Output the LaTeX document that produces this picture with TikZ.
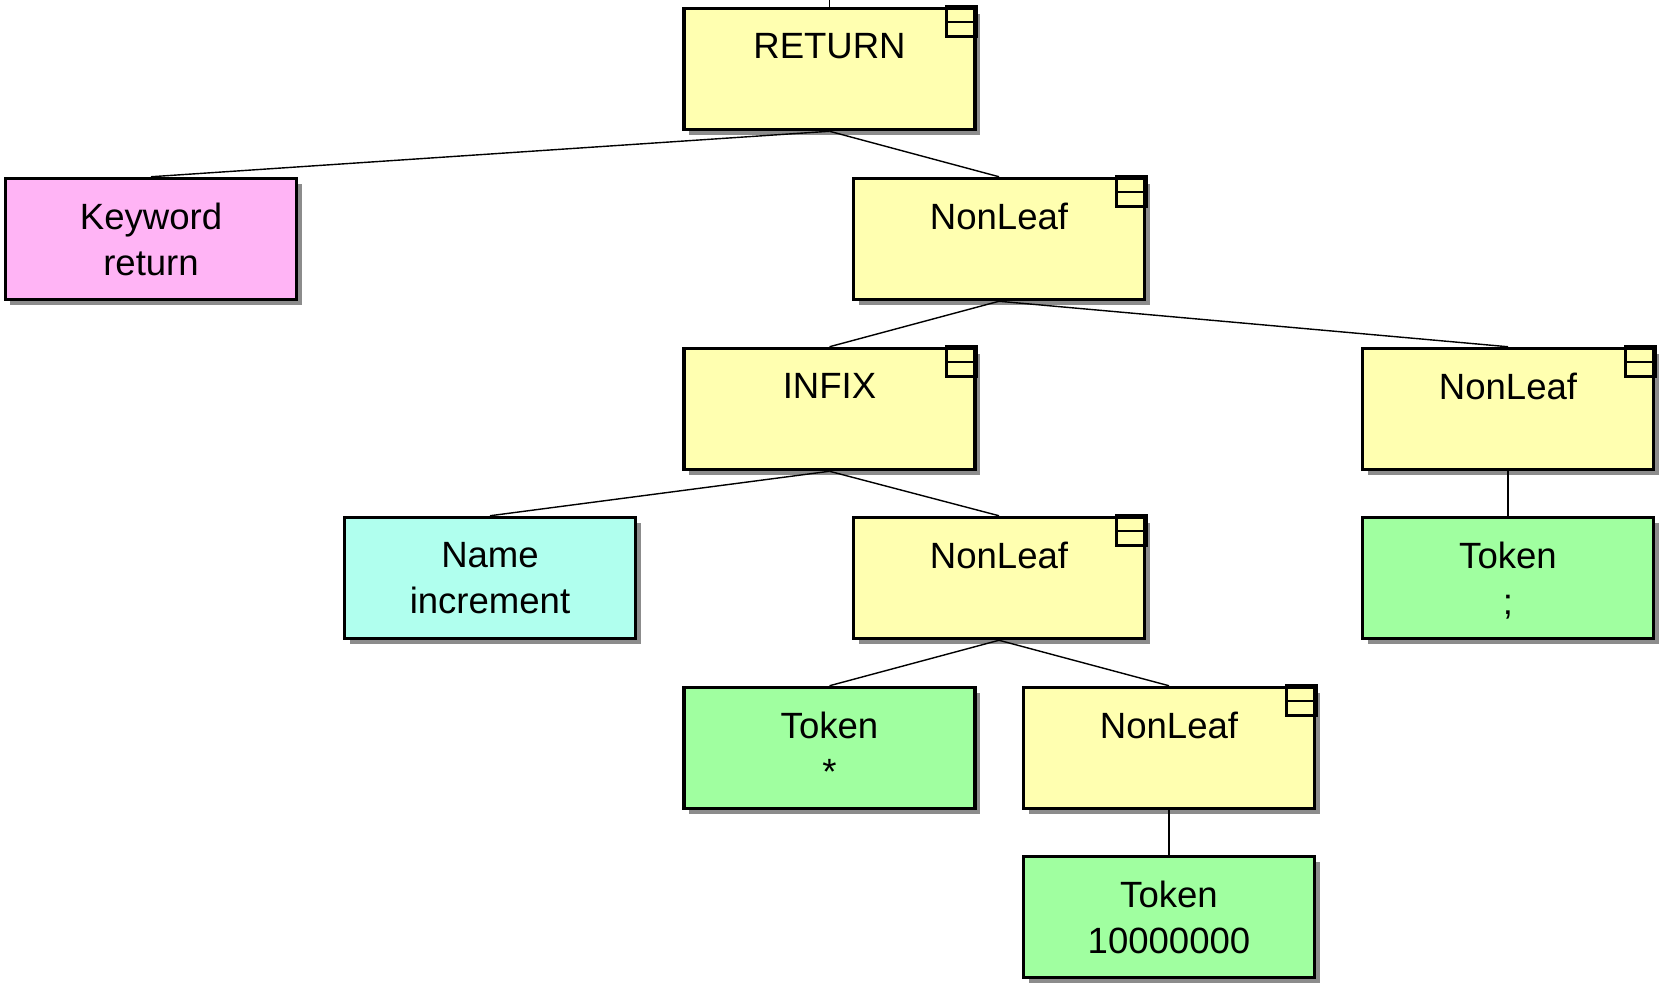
\documentclass[tikz,border=0pt]{standalone}
\usepackage{fontspec}
\setmainfont{Liberation Sans}
\usetikzlibrary{shadows}

\definecolor{nonleafyellow}{RGB}{255,255,176}
\definecolor{keywordpink}{RGB}{255,180,245}
\definecolor{namecyan}{RGB}{176,255,238}
\definecolor{tokengreen}{RGB}{160,255,160}

\tikzset{
  treebox/.style={draw, line width=1pt, minimum width=2.91cm, minimum height=1.21cm,
    inner sep=0pt, drop shadow={shadow xshift=0.05cm, shadow yshift=-0.05cm, fill=black!45, opacity=1}},
  nonleaf/.style={treebox, fill=nonleafyellow},
  keyword/.style={treebox, fill=keywordpink},
  namebox/.style={treebox, fill=namecyan},
  token/.style={treebox, fill=tokengreen},
  boxtext/.style={anchor=north, yshift=-0.26cm, inner sep=0pt, align=center,
    font=\fontsize{10.4}{13.1}\selectfont},
  branch/.style={line width=0.4pt}
}

\begin{document}
\begin{tikzpicture}
    \useasboundingbox (0,0) rectangle (16.62,-9.84);

    % Boxes
    \node[nonleaf, label={[boxtext]north:RETURN}] (ret) at (8.295,-0.69) {};
    \node[keyword, label={[boxtext]north:Keyword\\return}] (kw) at (1.51,-2.39) {};
    \node[nonleaf, label={[boxtext]north:NonLeaf}] (nla) at (9.99,-2.39) {};
    \node[nonleaf, label={[boxtext]north:INFIX}] (infix) at (8.295,-4.09) {};
    \node[nonleaf, label={[boxtext]north:NonLeaf}] (nlr) at (15.08,-4.09) {};
    \node[namebox, label={[boxtext]north:Name\\increment}] (name) at (4.90,-5.78) {};
    \node[nonleaf, label={[boxtext]north:NonLeaf}] (nlb) at (9.99,-5.78) {};
    \node[token, label={[boxtext]north:Token\\;}] (tsemi) at (15.08,-5.78) {};
    \node[token, label={[boxtext]north:Token\\*}] (tstar) at (8.295,-7.48) {};
    \node[nonleaf, label={[boxtext]north:NonLeaf}] (nlc) at (11.69,-7.48) {};
    \node[token, label={[boxtext]north:Token\\10000000}] (tnum) at (11.69,-9.17) {};

    % Corner marks on the NonLeaf boxes
    \foreach \n in {ret,nla,infix,nlr,nlb,nlc} {
        \draw[line width=0.85pt] ([xshift=-0.30cm]\n.north east) rectangle ([yshift=-0.30cm]\n.north east);
        \draw[line width=0.6pt] ([xshift=-0.30cm,yshift=-0.15cm]\n.north east) -- ([yshift=-0.15cm]\n.north east);
    }

    % Branches
    \coordinate (top) at (8.295,0);
    \draw[branch] (ret.north) -- (top);
    \draw[branch] (ret.south) -- (kw.north);
    \draw[branch] (ret.south) -- (nla.north);
    \draw[branch] (nla.south) -- (infix.north);
    \draw[branch] (nla.south) -- (nlr.north);
    \draw[branch] (infix.south) -- (name.north);
    \draw[branch] (infix.south) -- (nlb.north);
    \draw[branch] (nlr.south) -- (tsemi.north);
    \draw[branch] (nlb.south) -- (tstar.north);
    \draw[branch] (nlb.south) -- (nlc.north);
    \draw[branch] (nlc.south) -- (tnum.north);
\end{tikzpicture}
\end{document}
